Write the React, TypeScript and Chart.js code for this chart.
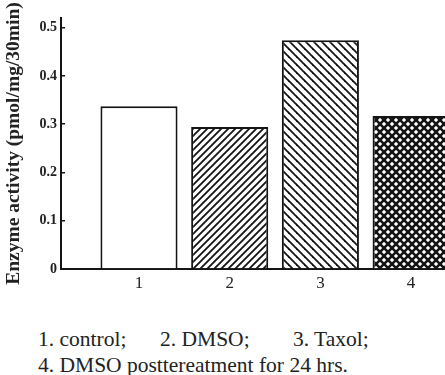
import React, { useEffect, useRef } from "react";
import { Chart, registerables } from "chart.js";

Chart.register(...registerables);

const categories = ["1", "2", "3", "4"];
const activity = [0.337, 0.294, 0.474, 0.317];
const yTicks = [0, 0.1, 0.2, 0.3, 0.4, 0.5];
const yTitle = "Enzyme activity (pmol/mg/30min)";
const legendLine1 = ["1. control;", "2. DMSO;", "3. Taxol;"];
const legendLine2 = "4. DMSO posttereatment for 24 hrs.";

const INK = "#141414";
const SERIF = "'Liberation Serif', 'Times New Roman', serif";

function makePattern(period: number, lw: number, dirs: string[]) {
  const c = document.createElement("canvas");
  c.width = period;
  c.height = period;
  const g = c.getContext("2d")!;
  g.fillStyle = "#ffffff";
  g.fillRect(0, 0, period, period);
  g.strokeStyle = INK;
  g.lineWidth = lw;
  g.lineCap = "square";
  for (const d of dirs) {
    for (const k of [-1, 0, 1]) {
      g.beginPath();
      if (d === "/") {
        g.moveTo(k * period, period);
        g.lineTo(k * period + period, 0);
      } else {
        g.moveTo(k * period, 0);
        g.lineTo(k * period + period, period);
      }
      g.stroke();
    }
  }
  return g.createPattern(c, "repeat")!;
}

export default function App() {
  const ref = useRef<HTMLCanvasElement | null>(null);

  useEffect(() => {
    const canvas = ref.current!;
    const fills: (string | CanvasPattern)[] = [
      "#ffffff",
      makePattern(7, 1.8, ["/"]),
      makePattern(8, 1.8, ["\\"]),
      makePattern(8, 2.6, ["/", "\\"]),
    ];
    const chart = new Chart(canvas, {
      type: "bar",
      data: {
        datasets: [
          {
            data: activity.map((v, i) => ({ x: i + 1, y: v })),
            backgroundColor: fills,
            borderColor: INK,
            borderWidth: 2,
            borderSkipped: "start",
            categoryPercentage: 1,
            barPercentage: 0.85,
          },
        ],
      },
      options: {
        animation: false,
        responsive: false,
        layout: { padding: { top: 18, left: 0, right: 0, bottom: 0 } },
        plugins: { legend: { display: false }, tooltip: { enabled: false } },
        scales: {
          x: {
            type: "linear",
            offset: false,
            min: 0.14,
            max: 4.374,
            afterBuildTicks: (scale: any) => {
              scale.ticks = categories.map((_, i) => ({ value: i + 1 }));
            },
            afterFit: (scale: any) => {
              scale.height = 31;
            },
            grid: { display: false, offset: false },
            border: { display: true, color: INK, width: 2 },
            ticks: {
              padding: -4,
              color: "#222",
              font: { family: SERIF, size: 17 },
              callback: (v: any) => categories[Math.round(Number(v)) - 1] ?? "",
              maxRotation: 0,
            },
          },
          y: {
            min: 0,
            max: 0.52,
            afterBuildTicks: (scale: any) => {
              scale.ticks = yTicks.map((v) => ({ value: v }));
            },
            afterFit: (scale: any) => {
              scale.width = 61;
            },
            grid: {
              drawOnChartArea: false,
              drawTicks: true,
              tickLength: -4,
              color: INK,
              lineWidth: 1.5,
            },
            border: { display: true, color: INK, width: 2 },
            ticks: {
              padding: 8,
              color: "#222",
              font: { family: SERIF, size: 14, weight: "bold" },
              callback: (v: any) => (Number(v) === 0 ? "0" : Number(v).toFixed(1)),
            },
            title: {
              display: true,
              text: yTitle,
              color: "#222",
              padding: { top: 2, bottom: 0 },
              font: { family: SERIF, size: 19.5, weight: "bold" },
            },
          },
        },
      },
    } as any);
    return () => chart.destroy();
  }, []);

  const textStyle: React.CSSProperties = {
    position: "absolute",
    fontFamily: SERIF,
    fontSize: 21.5,
    lineHeight: "21px",
    color: "#222",
    whiteSpace: "nowrap",
  };

  return (
    <div
      style={{
        position: "fixed",
        left: 0,
        top: 0,
        width: 445,
        height: 375,
        background: "#fff",
        overflow: "hidden",
      }}
    >
      <canvas ref={ref} width={445} height={300} style={{ position: "absolute", left: 0, top: 0 }} />
      <span style={{ ...textStyle, left: 38, top: 329 }}>{legendLine1[0]}</span>
      <span style={{ ...textStyle, left: 160, top: 329 }}>{legendLine1[1]}</span>
      <span style={{ ...textStyle, left: 293, top: 329 }}>{legendLine1[2]}</span>
      <span style={{ ...textStyle, left: 38, top: 355 }}>{legendLine2}</span>
    </div>
  );
}
